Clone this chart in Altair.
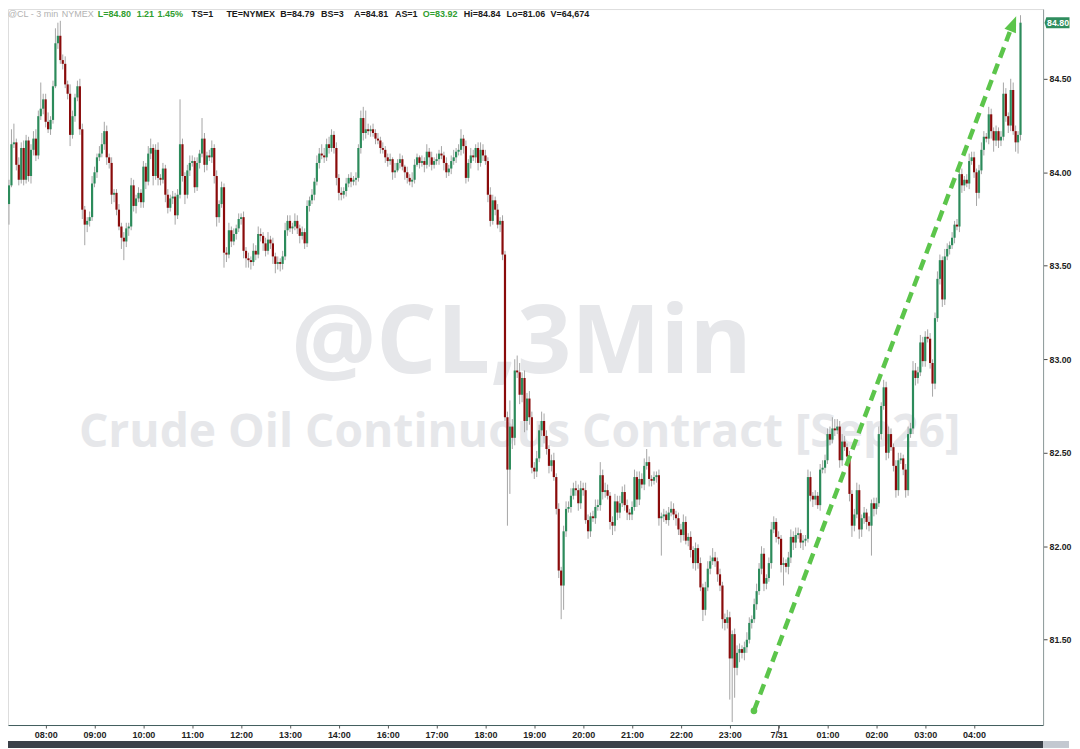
import json
from datetime import datetime, timedelta
import altair as alt
import pandas as pd

# ---------------- data ----------------
first_open = 84.00
closes = [
    # 07:12-07:57
    83.83, 83.93, 84.15, 84.16, 84.04, 83.96, 84.13, 83.96, 84.17, 83.98, 84.12, 84.18, 84.09, 84.30, 84.34, 84.39,
    # 08:00
    84.27, 84.23, 84.28, 84.46, 84.69, 84.73, 84.60, 84.58, 84.47, 84.42, 84.20, 84.30, 84.40, 84.46, 84.23, 83.80, 83.72, 83.74, 83.76, 83.94,
    # 09:00
    84.00, 84.08, 84.10, 84.15, 84.22, 84.08, 84.05, 83.88, 83.89, 83.80, 83.71, 83.65, 83.63, 83.70, 83.71, 83.93, 83.82, 83.86, 83.89, 83.84,
    # 10:00
    84.03, 83.95, 84.10, 84.13, 83.98, 84.12, 83.97, 83.96, 84.02, 83.88, 83.81, 83.86, 83.87, 83.77, 83.88, 84.15, 83.98, 83.88, 84.01, 84.05,
    # 11:00
    84.06, 83.92, 84.05, 84.10, 84.18, 84.04, 84.09, 84.08, 84.13, 83.98, 83.76, 83.83, 83.92, 83.57, 83.56, 83.69, 83.63, 83.67, 83.70, 83.75,
    # 12:00
    83.76, 83.58, 83.54, 83.53, 83.52, 83.58, 83.56, 83.67, 83.66, 83.62, 83.58, 83.64, 83.62, 83.55, 83.51, 83.52, 83.51, 83.55, 83.69, 83.74,
    # 13:00
    83.70, 83.71, 83.74, 83.70, 83.66, 83.68, 83.62, 83.82, 83.85, 83.88, 83.95, 84.05, 84.10, 84.09, 84.08, 84.15, 84.13, 84.20, 84.13, 83.97,
    # 14:00
    83.89, 83.88, 83.90, 83.94, 83.97, 83.95, 83.96, 83.97, 84.13, 84.29, 84.21, 84.23, 84.22, 84.23, 84.21, 84.18, 84.17, 84.13, 84.12, 84.08,
    # 16:00
    84.06, 84.07, 84.00, 84.01, 84.05, 84.07, 84.03, 84.00, 83.97, 83.95, 83.96, 84.04, 84.08, 84.05, 84.06, 84.04, 84.11, 84.08, 84.04, 84.06,
    # 17:00
    84.07, 84.10, 84.09, 84.05, 84.00, 84.02, 84.06, 84.08, 84.11, 84.12, 84.18, 84.14, 83.97, 84.05, 84.09, 84.08, 84.13, 84.05, 84.12, 84.09,
    # 18:00
    84.06, 83.88, 83.74, 83.85, 83.80, 83.72, 83.74, 83.56, 82.69, 82.41, 82.64, 82.58, 82.94, 82.93, 82.81, 82.90, 82.67, 82.79, 82.69, 82.42,
    # 19:00
    82.40, 82.47, 82.62, 82.67, 82.59, 82.52, 82.43, 82.46, 82.37, 82.20, 81.87, 81.79, 82.08, 82.20, 82.21, 82.27, 82.31, 82.30, 82.23, 82.31,
    # 20:00
    82.30, 82.14, 82.08, 82.16, 82.15, 82.21, 82.22, 82.38, 82.29, 82.30, 82.27, 82.13, 82.11, 82.24, 82.18, 82.23, 82.29, 82.22, 82.18, 82.17,
    # 21:00
    82.21, 82.37, 82.25, 82.36, 82.33, 82.43, 82.45, 82.36, 82.35, 82.37, 82.38, 82.15, 82.16, 82.17, 82.14, 82.18, 82.20, 82.17, 82.15, 82.09,
    # 22:00
    82.06, 82.13, 82.03, 82.05, 81.98, 81.91, 81.99, 81.91, 81.78, 81.66, 81.78, 81.88, 81.92, 81.94, 81.92, 81.85, 81.79, 81.61, 81.59, 81.62,
    # 23:00
    81.40, 81.53, 81.35, 81.43, 81.45, 81.43, 81.46, 81.50, 81.59, 81.61, 81.69, 81.76, 81.88, 81.96, 81.80, 81.83, 81.91, 82.09, 82.13, 82.05,
    # 7/31 00:00
    82.04, 81.90, 81.91, 81.89, 81.94, 82.05, 82.02, 82.06, 82.07, 82.02, 82.03, 82.04, 82.37, 82.27, 82.25, 82.27, 82.22, 82.41, 82.42, 82.46,
    # 01:00
    82.60, 82.57, 82.63, 82.62, 82.64, 82.46, 82.56, 82.53, 82.48, 82.28, 82.11, 82.17, 82.30, 82.09, 82.15, 82.18, 82.13, 82.11, 82.23, 82.20,
    # 02:00
    82.23, 82.60, 82.75, 82.85, 82.50, 82.60, 82.53, 82.43, 82.30, 82.46, 82.47, 82.41, 82.30, 82.60, 82.63, 82.94, 82.90, 82.93, 83.09, 82.99,
    # 03:00
    83.12, 83.11, 82.98, 82.87, 83.22, 83.43, 83.53, 83.32, 83.55, 83.59, 83.61, 83.65, 83.72, 83.71, 83.99, 83.93, 83.96, 83.94, 84.06, 84.08,
    # 04:00
    84.00, 83.89, 84.01, 84.12, 84.19, 84.18, 84.31, 84.22, 84.17, 84.22, 84.17, 84.19, 84.42, 84.30, 84.25, 84.44, 84.22, 84.16, 84.20, 84.80,
]
# wick lengths above / below the body, in cents
upper_wick_cents = [
    1, 3, 8, 10, 2, 4, 3, 4, 3, 2, 3, 4, 5, 3, 14, 3,
    3, 5, 2, 3, 8, 7, 8, 3, 4, 2, 5, 3, 2, 3, 4, 3, 2, 2, 3, 4,
    3, 2, 4, 6, 5, 3, 2, 3, 2, 2, 3, 2, 3, 3, 2, 4, 3, 2, 3, 2,
    3, 2, 4, 5, 2, 3, 4, 2, 3, 2, 3, 2, 3, 2, 3, 24, 3, 2, 3, 4,
    3, 2, 3, 2, 11, 3, 2, 3, 4, 2, 3, 2, 3, 2, 3, 4, 2, 3, 2, 3,
    2, 3, 2, 3, 2, 4, 3, 4, 3, 2, 3, 4, 2, 3, 2, 3, 2, 3, 4, 3,
    3, 2, 4, 3, 2, 3, 2, 3, 2, 3, 2, 4, 3, 5, 4, 3, 4, 3, 2, 3,
    2, 3, 2, 3, 2, 3, 2, 3, 2, 4, 6, 10, 3, 2, 3, 2, 3, 2, 3, 2,
    2, 3, 1, 4, 2, 3, 2, 1, 3, 2, 4, 3, 2, 1, 3, 2, 4, 2, 3, 2,
    3, 2, 4, 2, 3, 2, 3, 4, 2, 3, 5, 2, 3, 2, 4, 3, 2, 3, 4, 3,
    3, 2, 4, 3, 2, 3, 2, 3, 2, 3, 14, 4, 6, 8, 5, 3, 4, 3, 4, 3,
    3, 4, 3, 5, 4, 3, 2, 3, 4, 2, 3, 2, 3, 4, 3, 4, 3, 4, 3, 4,
    3, 4, 3, 2, 3, 4, 3, 7, 3, 4, 3, 2, 3, 4, 3, 4, 3, 4, 3, 2,
    3, 4, 3, 4, 3, 4, 7, 3, 2, 3, 2, 3, 2, 3, 2, 3, 4, 3, 2, 3,
    3, 4, 3, 2, 3, 2, 3, 2, 3, 2, 3, 4, 3, 5, 3, 2, 3, 2, 3, 4,
    3, 2, 3, 4, 3, 2, 3, 4, 3, 2, 3, 4, 3, 4, 3, 2, 3, 4, 3, 2,
    3, 2, 3, 2, 3, 4, 3, 4, 3, 2, 3, 2, 4, 3, 2, 3, 2, 3, 4, 3,
    3, 4, 6, 5, 4, 3, 4, 3, 2, 3, 2, 3, 4, 3, 2, 3, 2, 3, 2, 3,
    3, 4, 2, 4, 3, 4, 3, 2, 3, 4, 3, 2, 3, 4, 3, 5, 4, 3, 4, 3,
    3, 4, 3, 2, 3, 4, 3, 2, 4, 3, 2, 3, 2, 3, 4, 3, 2, 3, 4, 3,
    3, 2, 3, 4, 3, 2, 4, 3, 2, 3, 2, 3, 6, 3, 2, 6, 4, 3, 2, 4,
]
lower_wick_cents = [
    10, 11, 1, 2, 3, 3, 2, 3, 2, 3, 4, 3, 3, 2, 2, 3,
    3, 2, 3, 2, 1, 3, 2, 3, 2, 3, 6, 2, 3, 2, 3, 5, 11, 4, 3, 2,
    2, 3, 2, 2, 3, 4, 3, 5, 4, 3, 2, 6, 10, 3, 4, 2, 3, 4, 2, 3,
    3, 4, 2, 3, 5, 2, 4, 3, 2, 4, 3, 2, 3, 5, 2, 2, 3, 5, 2, 3,
    2, 3, 2, 3, 2, 4, 3, 2, 3, 4, 5, 3, 2, 8, 4, 2, 3, 2, 3, 2,
    3, 4, 5, 4, 4, 2, 3, 2, 3, 4, 3, 2, 3, 4, 5, 3, 4, 3, 2, 3,
    2, 3, 2, 3, 4, 2, 3, 2, 3, 2, 3, 2, 3, 2, 3, 2, 3, 2, 3, 4,
    4, 3, 2, 3, 2, 3, 2, 3, 2, 3, 4, 3, 2, 3, 2, 3, 2, 3, 2, 3,
    3, 2, 4, 3, 1, 3, 2, 4, 3, 2, 3, 2, 1, 3, 2, 4, 2, 5, 3, 2,
    2, 3, 2, 4, 3, 2, 3, 2, 3, 2, 3, 4, 3, 2, 3, 2, 3, 4, 2, 3,
    2, 4, 3, 2, 3, 2, 4, 3, 2, 30, 13, 6, 4, 3, 5, 4, 6, 5, 4, 3,
    4, 3, 2, 3, 4, 3, 4, 3, 2, 3, 4, 18, 13, 3, 2, 3, 2, 3, 4, 3,
    3, 2, 4, 3, 2, 3, 2, 3, 4, 3, 2, 4, 5, 3, 4, 3, 2, 3, 4, 3,
    3, 2, 4, 3, 2, 3, 2, 4, 3, 2, 3, 4, 20, 3, 2, 3, 2, 3, 4, 3,
    4, 3, 2, 3, 4, 3, 4, 3, 2, 6, 3, 2, 3, 2, 3, 4, 3, 5, 4, 3,
    22, 34, 16, 4, 5, 3, 4, 3, 2, 3, 2, 3, 2, 3, 4, 3, 2, 3, 2, 3,
    3, 4, 11, 3, 4, 3, 4, 3, 2, 3, 4, 3, 2, 3, 4, 3, 2, 3, 2, 3,
    2, 3, 2, 3, 2, 4, 3, 2, 3, 4, 6, 3, 2, 5, 4, 3, 4, 3, 16, 4,
    3, 2, 3, 2, 4, 3, 2, 3, 4, 3, 2, 3, 4, 3, 2, 3, 4, 3, 2, 3,
    3, 2, 3, 7, 3, 2, 3, 4, 3, 2, 3, 2, 3, 2, 3, 4, 3, 2, 3, 2,
    3, 7, 3, 2, 3, 2, 3, 4, 6, 3, 4, 3, 2, 3, 4, 3, 2, 5, 6, 3,
]
tick_labels = ["08:00", "09:00", "10:00", "11:00", "12:00", "13:00", "14:00", "16:00", "17:00", "18:00",
               "19:00", "20:00", "21:00", "22:00", "23:00", "7/31", "01:00", "02:00", "03:00", "04:00"]
price_ticks = [81.5, 82.0, 82.5, 83.0, 83.5, 84.0, 84.5]
last_price = 84.80
arrow_from = [305.9, 81.12]   # bar index, price
arrow_to = [410.6, 84.75]
arrow_head = [411.7, 84.785]
header_items = ["@CL - 3 min", "NYMEX", "L=84.80", "1.21", "1.45%", "TS=1", "TE=NYMEX", "B=84.79",
                "BS=3", "A=84.81", "AS=1", "O=83.92", "Hi=84.84", "Lo=81.06", "V=64,674"]
watermark_1 = "@CL,3Min"
watermark_2 = "Crude Oil Continuous Contract [Sep26]"

# ---------------- build tables ----------------
times = []
t = datetime(2026, 7, 30, 7, 12)
while len(times) < len(closes):
    if t.hour != 15:          # no bars during the 15:00 break
        times.append(t)
    t += timedelta(minutes=3)
tick_idx = [k for k, tt in enumerate(times) if tt.minute == 0]

rows = []
o = first_open
for k, c in enumerate(closes):
    rows.append({
        "i": k, "open": o, "close": c,
        "high": round(max(o, c) + upper_wick_cents[k] / 100, 2),
        "low": round(min(o, c) - lower_wick_cents[k] / 100, 2),
        "dir": "up" if c >= o else "down",
    })
    o = c
candles = pd.DataFrame(rows)

GREEN = "#2c8b5b"
RED = "#8a0b0b"
ARROW = "#5cc54b"
LABEL_FONT = "Liberation Sans"

# plot area: page x 8..1046, page y 8..726 (the page has an 8px margin)
xs = alt.Scale(domain=[2.627, 422.2], nice=False, zero=False)
ys = alt.Scale(domain=[81.044, 84.873], nice=False, zero=False)
label_expr = f"{json.dumps(tick_labels)}[indexof({json.dumps(tick_idx)}, datum.value)]"
xaxis = alt.Axis(orient="bottom", values=tick_idx, labelExpr=label_expr, title=None, grid=False,
                 tickSize=3, labelPadding=3, domainColor="#405c5c", tickColor="#5a5a5a",
                 labelFlush=False, labelOverlap=False, labelFont=LABEL_FONT, labelFontSize=9,
                 labelFontWeight="bold", labelColor="#1e1e1e")
yaxis = alt.Axis(orient="right", values=price_ticks, format=".2f", title=None, grid=False,
                 tickSize=4, labelPadding=2, domainColor="#8e9a9a", tickColor="#4a4a4a",
                 labelFont=LABEL_FONT, labelFontSize=8.8, labelFontWeight="bold", labelColor="#1e1e1e")

def X(field):
    return alt.X(field, scale=xs, axis=xaxis)

def Y(field):
    return alt.Y(field, scale=ys, axis=yaxis)

one = pd.DataFrame({"k": [0]})

wm1 = alt.Chart(pd.DataFrame({"t": [watermark_1]})).mark_text(
    font="Open Sans", fontWeight="bold", fontSize=95, color="#e6e7ea", align="center", baseline="alphabetic"
).encode(text="t:N", x=alt.value(515), y=alt.value(365))
wm2 = alt.Chart(pd.DataFrame({"t": [watermark_2]})).mark_text(
    font="Open Sans", fontWeight="bold", fontSize=46.3, color="#e6e7ea", align="center", baseline="alphabetic"
).encode(text="t:N", x=alt.value(513), y=alt.value(439))

base = alt.Chart(candles)
wicks = base.mark_rule(color="#a6a6a6", strokeWidth=1, clip=True).encode(
    x=X("i:Q"), y=Y("low:Q"), y2="high:Q")
bodies = base.mark_bar(width=2.2, clip=True).encode(
    x=X("i:Q"), y=Y("open:Q"), y2="close:Q",
    color=alt.Color("dir:N", scale=alt.Scale(domain=["up", "down"], range=[GREEN, RED]), legend=None),
)

# the 7/31 day-break tick is drawn longer than the hour ticks
day_tick = alt.Chart(pd.DataFrame({"i": [tick_idx[tick_labels.index("7/31")]]})).mark_rule(
    color="#5a5a5a", strokeWidth=1
).encode(x=X("i:Q"), y=alt.value(718), y2=alt.value(726))

arrow_df = pd.DataFrame({"i": [arrow_from[0], arrow_to[0]], "p": [arrow_from[1], arrow_to[1]]})
arrow_line = alt.Chart(arrow_df).mark_line(
    color=ARROW, strokeWidth=4.5, strokeDash=[11, 6.5], strokeCap="butt"
).encode(x=X("i:Q"), y=Y("p:Q"))
arrow_dot = alt.Chart(pd.DataFrame({"i": [arrow_from[0]], "p": [arrow_from[1]]})).mark_point(
    filled=True, size=45, color=ARROW, opacity=1, shape="circle"
).encode(x=X("i:Q"), y=Y("p:Q"))
arrow_tip = alt.Chart(pd.DataFrame({"i": [arrow_head[0]], "p": [arrow_head[1]]})).mark_point(
    filled=True, size=400, color=ARROW, opacity=1, shape="M0,-1L0.62,0.6L-0.62,0.6Z", angle=22
).encode(x=X("i:Q"), y=Y("p:Q"))

tag_df = pd.DataFrame({"p": [last_price], "t": [f"{last_price:.2f}"]})
tag_box = alt.Chart(tag_df).mark_point(
    filled=True, size=625, color="#2f8d5e", opacity=1, shape="M-1,0L-0.86,-0.44H1V0.44H-0.86Z"
).encode(x=alt.value(1052), y=Y("p:Q"))
tag_txt = alt.Chart(tag_df).mark_text(
    font=LABEL_FONT, fontSize=8.8, fontWeight="bold", color="white", align="center", baseline="middle"
).encode(text="t:N", x=alt.value(1053), y=Y("p:Q"))

header_x = [0, 54, 90, 129, 150, 184, 219, 273, 314, 347, 388, 416, 457, 500, 544]
header_col = ["#b2b2b2", "#b2b2b2", "#2f9e2f", "#2f9e2f", "#2f9e2f", "#1a1a1a", "#1a1a1a", "#1a1a1a",
              "#1a1a1a", "#1a1a1a", "#1a1a1a", "#2f9e2f", "#1a1a1a", "#1a1a1a", "#1a1a1a"]
header_layers = []
for n, txt in enumerate(header_items):
    header_layers.append(
        alt.Chart(pd.DataFrame({"t": [txt]})).mark_text(
            font=LABEL_FONT, fontSize=9, fontWeight="normal" if n < 2 else "bold",
            color=header_col[n], align="left", baseline="middle"
        ).encode(text="t:N", x=alt.value(header_x[n]), y=alt.value(4.5))
    )

def bar_rect(x1, x2, y1, y2, col):
    return alt.Chart(one).mark_rect(color=col).encode(
        x=alt.value(x1), x2=alt.value(x2), y=alt.value(y1), y2=alt.value(y2))

scroll = [
    bar_rect(0, 1038, 734, 741, "#3b4149"),
    bar_rect(1038, 1064, 734, 741, "#c3c8d0"),
]

chart = alt.layer(
    wm1, wm2, wicks, bodies, day_tick, arrow_line, arrow_dot, arrow_tip, tag_box, tag_txt,
    *header_layers, *scroll
).properties(
    width=1038, height=718, padding=0
).configure_view(strokeWidth=0).configure(background="white")

chart.save("out.html", embed_options={"renderer": "svg", "actions": False})
